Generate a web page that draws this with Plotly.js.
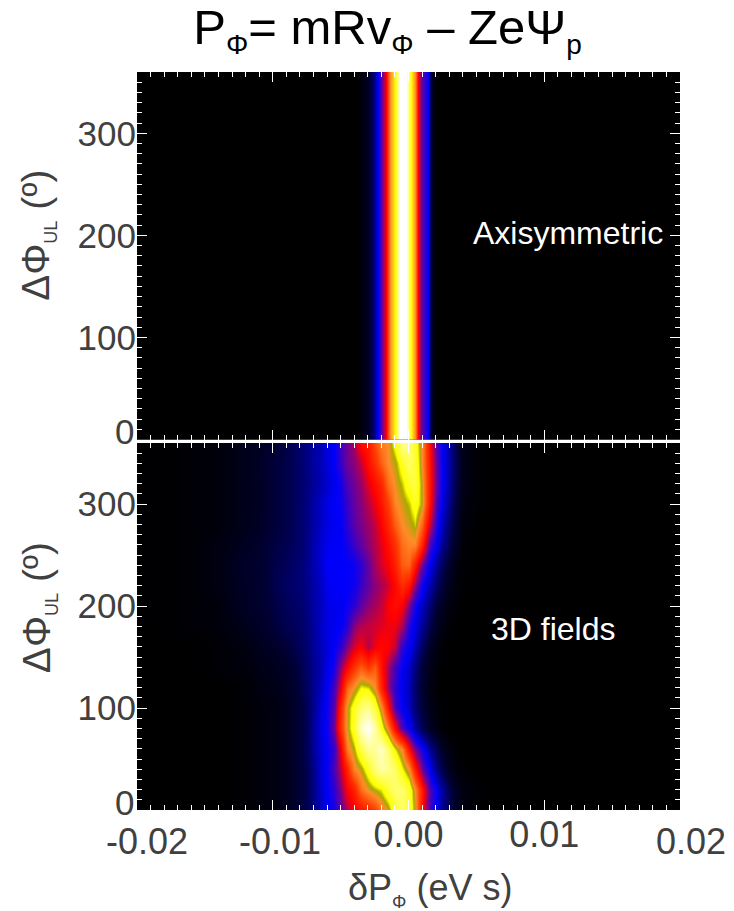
<!DOCTYPE html>
<html><head><meta charset="utf-8">
<script src="https://cdn.plot.ly/plotly-3.0.1.min.js"></script>
<style>html,body{margin:0;padding:0;background:#fff}</style></head>
<body><div id="chart" style="width:734px;height:911px"></div>
<script>
const topAngles = [0, 360];
const topP = [-0.02,-0.0038,-0.003,-0.00225,-0.00195,-0.00165,-0.00135,-0.001,-0.00063,-0.00018,0.00018,0.00048,0.0007,0.00092,0.00144,0.00173,0.0021,0.02];
const topProfile = [0,0,1,3,4,5,7,8,10,10,8,7,5,4,3,1,0,0];

const bottomP = [-0.02,-0.016,-0.014,-0.012,-0.011,-0.01,-0.009,-0.008,-0.0075,-0.007,-0.0065,-0.006,-0.0055,-0.005,-0.0045,-0.004,-0.0035,-0.003,-0.0025,-0.002,-0.0015,-0.001,-0.0005,0,0.0005,0.001,0.0015,0.002,0.0025,0.003,0.0035,0.004,0.005,0.006,0.02];
const bottomAngles = [0,20,40,60,80,100,120,140,160,180,200,220,240,260,280,300,320,340,360];
const r0   = [0,0,0,.1,.2,.3,.5,1,1.3,1.8, 2.4,2.9,3.2,3.9,4.5, 5,5.3,5.6,6,6.7, 7.2,8.2,8.6,8.2,7.2, 5.3,3.7,2.9,2.1,1.3, .7,.3,.1,0,0];
const r20  = [0,0,0,.1,.2,.3,.5,1,1.3,1.9, 2.5,3,3.4,4.2,5, 5.5,6.6,7.1,7.4,7.6, 8.2,8.7,8.7,8.1,7, 5.4,3.9,3,2.2,1.3, .6,.3,.1,0,0];
const r40  = [0,0,0,.1,.2,.3,.5,1,1.3,1.9, 2.6,3,3.7,4.6,5.6, 6.9,7.3,8,8.8,9.2, 9,8.6,7.7,7,5.4, 4,3,2,1.2,.6, .2,.1,0,0,0];
const r60  = [0,0,0,.1,.2,.3,.5,1,1.4,2.1, 2.6,3,3.5,5,6.8, 7.4,8.4,9,9.1,9.5, 8.7,7.6,6.9,5.2,4, 3.2,2.2,1.4,.7,.3, .1,0,0,0,0];
const r80  = [0,0,0,.1,.2,.3,.5,1,1.4,2.1, 2.7,3.1,4,5.9,7.2, 8.1,9.5,10,9.2,8, 6.8,5.1,3.7,3,2.2, 1.4,.7,.3,.1,0, 0,0,0,0,0];
const r100 = [0,0,0,.1,.2,.3,.5,1,1.4,2, 2.6,3.1,3.8,5.7,7.2, 8,8.7,9,8.2,7.1, 5.3,3.6,3,2.5,1.7, 1,.5,.2,.1,0, 0,0,0,0,0];
const r120 = [0,0,0,.1,.3,.4,.6,1.1,1.5,2, 2.4,3,3.6,4.9,6.5, 7.1,7.7,7.6,7,5.6, 4.3,3.4,2.9,2.4,1.6, .9,.4,.1,0,0, 0,0,0,0,0];
const r140 = [0,0,.1,.2,.4,.5,.7,1.2,1.6,2, 2.3,2.8,3.2,4.3,5, 5.8,6.4,5.9,6.4,5.3, 4.4,3.6,3,2.6,1.8, 1,.5,.2,.05,0, 0,0,0,0,0];
const r160 = [0,0,.1,.3,.5,.7,1,1.4,1.7,2.1, 2.4,2.7,3,3.4,4.1, 4.7,5,4.5,4.9,5.1, 5,4.6,3.4,3,2.4, 1.5,.8,.3,.1,0, 0,0,0,0,0];
const r180 = [0,.1,.2,.5,.7,1,1.3,1.5,1.8,2.1, 2.5,2.8,2.9,3,3.4, 4.2,4.5,4.6,4.7,4.8, 4.9,4.9,4.4,3.3,2.8, 2.1,1.3,.7,.3,.1, 0,0,0,0,0];
const r200 = [0,.1,.2,.7,.8,1.1,1.4,1.6,1.9,2.2, 2.4,2.8,2.9,2.9,3.1, 3.4,3.9,4.2,4.4,4.6, 5,5.2,5,4.1,3.1, 2.5,1.8,1,.6,.3, .1,0,0,0,0];
const r220 = [0,.1,.3,.7,.8,1.2,1.5,1.7,2,2.2, 2.5,2.9,3,3,3, 3.1,3.5,3.9,4.2,4.4, 4.7,5.1,5.7,5.3,4.2, 3.1,2.4,1.6,1,.5, .2,.05,0,0,0];
const r240 = [0,.1,.3,.8,.8,1.2,1.4,1.7,2,2.3, 2.6,3,3,3,3, 3.1,3.4,3.9,4.4,4.7, 5,5.5,6.4,6.5,5.4, 4,3,2.2,1.4,.8, .3,.1,0,0,0];
const r260 = [0,.1,.3,.6,.8,1.1,1.3,1.6,1.9,2.3, 2.6,2.9,3,3,3.2, 3.5,3.9,4.2,4.5,4.8, 5.2,5.8,6.6,6.9,6.9, 5.6,3.8,2.9,2.1,1.3, .6,.1,0,0,0];
const r280 = [0,.1,.2,.5,.7,1,1.2,1.6,1.9,2.2, 2.5,2.8,2.9,3,3.4, 3.8,4.1,4.3,4.6,5, 5.6,6.4,7,7.2,7.5, 6.5,4.8,3.4,2.5,1.6, .8,.2,.05,0,0];
const r300 = [0,.1,.2,.5,.6,1,1.2,1.6,1.9,2.2, 2.5,2.8,3,3.1,3.5, 3.9,4.2,4.5,4.9,5.3, 6,6.9,7.2,7.5,8, 7.3,5.4,3.8,2.8,2, 1,.3,.1,0,0];
const r320 = [0,.1,.2,.5,.6,1,1.2,1.6,1.8,2.1, 2.3,2.6,2.9,3.2,3.7, 4,4.3,4.8,5.2,5.6, 6.6,7.1,7.5,8.1,8.3, 7.2,5.5,4,3,2.2, 1.2,.4,.1,0,0];
const r340 = [0,.1,.2,.5,.7,1,1.2,1.6,1.9,2.2, 2.4,2.7,3,3.5,4, 4.2,4.6,5.2,5.8,6.4, 7,7.3,8,8.6,8.2, 7,5.4,4,3,2.3, 1.3,.4,.1,0,0];
const r360 = [0,.1,.2,.5,.6,.9,1.2,1.6,1.9,2.2, 2.3,2.8,3,3.6,4, 4.4,5.2,5.4,6.2,6.8, 7,7.9,9,8.8,8, 7,5.3,3.8,3,2.2, 1.2,.4,.1,0,0];
const bottomZ = [r0,r20,r40,r60,r80,r100,r120,r140,r160,r180,r200,r220,r240,r260,r280,r300,r320,r340,r360];

const bottomPalette = [
  [0,'rgb(0,0,0)'],[0.1,'rgb(0,0,55)'],[0.2,'rgb(0,0,140)'],[0.3,'rgb(0,0,250)'],[0.4,'rgb(110,0,150)'],[0.5,'rgb(255,0,0)'],
  [0.6,'rgb(255,60,0)'],[0.7,'rgb(255,140,40)'],[0.74,'rgb(170,170,0)'],[0.77,'rgb(255,255,0)'],[1,'rgb(255,255,255)']
];
const topPalette = [
  [0,'rgb(0,0,0)'],[0.1,'rgb(0,0,35)'],[0.2,'rgb(0,0,105)'],[0.3,'rgb(0,0,250)'],[0.4,'rgb(110,0,150)'],[0.5,'rgb(255,0,0)'],
  [0.7,'rgb(255,140,40)'],[0.8,'rgb(255,255,0)'],[1,'rgb(255,255,255)']
];
const phiTicks = [100,200,300];
const FONT = '"Liberation Sans", Arial, sans-serif';
const INK = '#404040';
const sub = (t,s)=>`<sub><span style="font-size:${s}px">${t}</span></sub>`;

const xBase = {
  range:[-0.02,0.02], showgrid:false, zeroline:false, showline:false, mirror:'ticks',
  ticks:'inside', ticklen:10, tickwidth:1, tickcolor:'#fff',
  tickmode:'array', tickvals:[-0.02,-0.01,0,0.01,0.02],
  minor:{dtick:0.001, ticks:'inside', ticklen:5, tickwidth:1, tickcolor:'#fff', showgrid:false}
};
const yBase = {
  range:[0,360], showgrid:false, zeroline:false, showline:false, mirror:'ticks',
  ticks:'inside', ticklen:10, tickwidth:1, tickcolor:'#fff',
  tickmode:'array', tickvals:phiTicks, ticktext:phiTicks.map(String),
  tickfont:{family:FONT,size:35,color:INK},
  minor:{dtick:10, ticks:'inside', ticklen:5, tickwidth:1, tickcolor:'#fff', showgrid:false}
};
const edgeLabel = (x,t,shift)=>({xref:'x',yref:'paper',x:x,y:0,yanchor:'top',yshift:-9,xshift:shift,showarrow:false,text:t,font:{family:FONT,size:36,color:INK}});
const zeroLabel = (yr,t)=>({xref:'paper',yref:yr,x:0,y:0,xanchor:'right',yanchor:'middle',xshift:-1,yshift:8,showarrow:false,text:t,font:{family:FONT,size:35,color:INK}});
const yTitle = (yr,y)=>({xref:'paper',yref:yr,x:(38-137)/543,y:y,xanchor:'center',yanchor:'middle',textangle:-90,showarrow:false,text:'ΔΦ'+sub('UL',18)+' (º)',font:{family:FONT,size:39,color:INK}});

const data = [
  {type:'heatmap',x:topP,y:topAngles,z:[topProfile,topProfile],xaxis:'x2',yaxis:'y2',colorscale:topPalette,zmin:0,zmax:10,zsmooth:'best',showscale:false},
  {type:'heatmap',x:bottomP,y:bottomAngles,z:bottomZ,xaxis:'x',yaxis:'y',colorscale:bottomPalette,zmin:0,zmax:10,zsmooth:'best',showscale:false}
];
const layout = {
  width:734,height:911,paper_bgcolor:'#fff',plot_bgcolor:'#000',showlegend:false,
  margin:{l:137,r:54,t:72,b:101,pad:0},
  font:{family:FONT,color:INK},
  title:{text:'P'+sub('Φ',28)+'= mRv'+sub('Φ',28)+' – ZeΨ'+sub('p',28),font:{family:FONT,size:49,color:'#000'},x:(387.5-137)/543,xanchor:'center',xref:'paper',y:0.971,yanchor:'middle'},
  xaxis:Object.assign({},xBase,{domain:[0,1],anchor:'y',ticktext:['','','0.00','0.01',''],
    tickfont:{family:FONT,size:36,color:INK}}),
  yaxis:Object.assign({},yBase,{domain:[0,0.4973],anchor:'x'}),
  xaxis2:Object.assign({},xBase,{domain:[0,1],anchor:'y2',showticklabels:false}),
  yaxis2:Object.assign({},yBase,{domain:[0.502,1],anchor:'x2'}),
  annotations:[
    {xref:'x2',yref:'y2',x:0.01177,y:202,showarrow:false,text:'Axisymmetric',font:{family:FONT,size:32,color:'#fff'}},
    {xref:'x',yref:'y',x:0.0107,y:178,showarrow:false,text:'3D fields',font:{family:FONT,size:32,color:'#fff'}},
    edgeLabel(-0.02,'-0.02',10),edgeLabel(-0.01,'-0.01',7),edgeLabel(0.02,'0.02',11),
    zeroLabel('y','0'),zeroLabel('y2','0'),
    yTitle('y2',199.5),yTitle('y',198),
    {xref:'x',yref:'paper',x:0.0016,y:0,yanchor:'middle',yshift:-79,showarrow:false,text:'δP'+sub('Φ',18)+' (eV s)',font:{family:FONT,size:36,color:INK}}
  ]
};
Plotly.newPlot('chart',data,layout,{displayModeBar:false,staticPlot:true});
</script></body></html>
